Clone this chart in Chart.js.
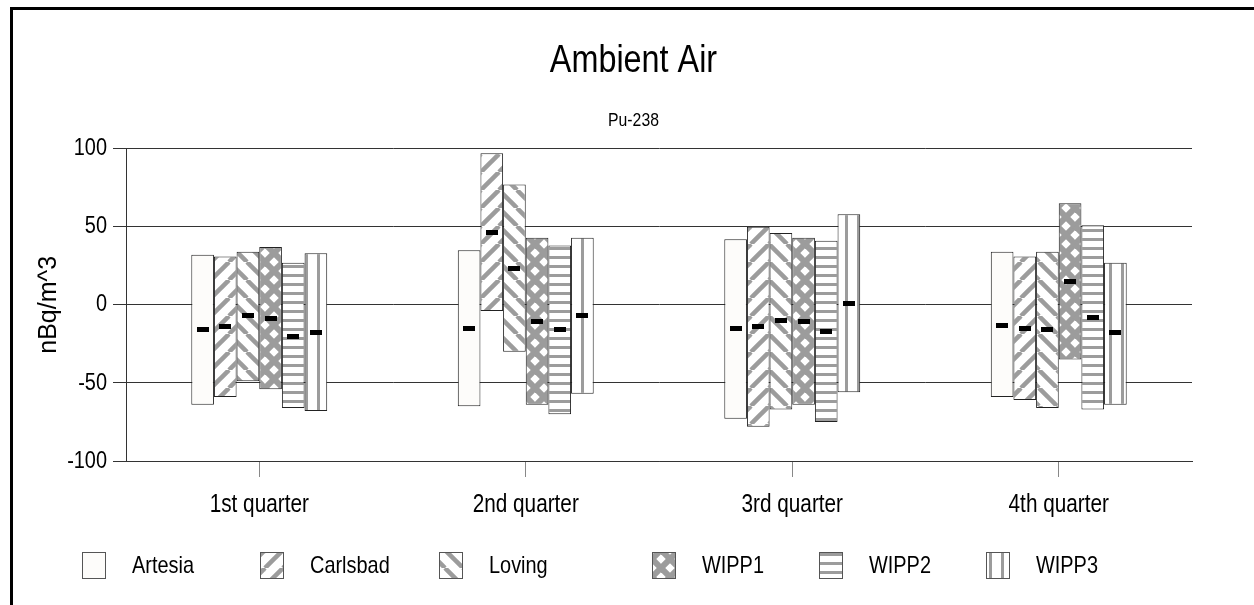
<!DOCTYPE html>
<html>
<head>
<meta charset="utf-8">
<title>Ambient Air</title>
<script src="https://cdn.jsdelivr.net/npm/chart.js@4.4.1/dist/chart.umd.min.js"></script>
<style>
html,body{margin:0;padding:0;background:#fff;overflow:hidden}
.frame{position:absolute;left:10px;top:7px;width:1400px;height:800px;border-left:3px solid #000;border-top:3px solid #000}
.box{position:absolute;left:13px;top:10px;width:1241px;height:595px}
</style>
</head>
<body>
<div class="frame"></div>
<div class="box"><canvas id="chart"></canvas></div>
<script>

const quarters=["1st quarter","2nd quarter","3rd quarter","4th quarter"]
const sites=["Artesia","Carlsbad","Loving","WIPP1","WIPP2","WIPP3"]
const yTicks=[-100,-50,0,50,100]

// [low, high] per quarter, plus the mean marker
const artesia=[[-64,32],[-65,35],[-73,42],[-59,34]]
const artesiaMean=[-16,-15,-15,-13]

const carlsbad=[[-59,31],[-4,97],[-78,50],[-61,31]]
const carlsbadMean=[-14,46,-14,-15]

const loving=[[-49,34],[-30,77],[-67,46],[-66,34]]
const lovingMean=[-7,23,-10,-16]

const wipp1=[[-54,37],[-64,43],[-64,43],[-35,65]]
const wipp1Mean=[-9,-11,-11,15]

const wipp2=[[-66,27],[-70,38],[-75,41],[-67,51]]
const wipp2Mean=[-20,-16,-17,-8]

const wipp3=[[-68,33],[-57,43],[-56,58],[-64,27]]
const wipp3Mean=[-18,-7,1,-18]

const FONT="'Liberation Sans',Arial,sans-serif"
const SQUEEZE=0.83

Chart.defaults.color="#000"
Chart.defaults.font.family=FONT

const canvas=document.getElementById("chart")
const mainCtx=canvas.getContext("2d")

// no narrow font installed: squeeze horizontal text like Arial Narrow
const rawFillText=mainCtx.fillText
mainCtx.fillText=function(text,x,y,maxWidth){
if(this.getTransform().b!==0) return rawFillText.call(this,text,x,y,maxWidth)
const w=this.measureText(text).width*SQUEEZE
return rawFillText.call(this,text,x,y,maxWidth===undefined?w:Math.min(w,maxWidth))
}

function tile(w,h,draw){
const c=document.createElement("canvas")
c.width=w
c.height=h
const g=c.getContext("2d")
g.fillStyle="#fff"
g.fillRect(0,0,w,h)
g.strokeStyle="#9c9c9c"
g.fillStyle="#9c9c9c"
draw(g)
return mainCtx.createPattern(c,"repeat")
}

function diag(g,s,dir,lw){
g.lineWidth=lw
for(let k=-s;k<=s;k+=s){
g.beginPath()
if(dir>0){g.moveTo(k,s);g.lineTo(k+s,0)}
else{g.moveTo(k,0);g.lineTo(k+s,s)}
g.stroke()
}
}

const fills=[
"#fdfcfa",
tile(18,18,g=>diag(g,18,1,4.5)),
tile(18,18,g=>diag(g,18,-1,4.5)),
tile(18,18,g=>{diag(g,18,1,6);diag(g,18,-1,6)}),
tile(9,9,g=>g.fillRect(0,3,9,3)),
tile(12,12,g=>g.fillRect(4,0,3,12))
]

const ranges=[artesia,carlsbad,loving,wipp1,wipp2,wipp3]
const means=[artesiaMean,carlsbadMean,lovingMean,wipp1Mean,wipp2Mean,wipp3Mean]

const datasets=sites.map((s,i)=>({
label:s,
data:ranges[i],
means:means[i],
backgroundColor:fills[i],
borderColor:"#222",
borderWidth:1,
borderSkipped:false,
categoryPercentage:0.51,
barPercentage:1
}))

const meanMarks={
id:"meanMarks",
afterDatasetsDraw(chart){
const {ctx,scales:{y}}=chart
ctx.save()
ctx.fillStyle="#000"
chart.data.datasets.forEach((ds,i)=>{
chart.getDatasetMeta(i).data.forEach((bar,j)=>{
const py=y.getPixelForValue(ds.means[j])
ctx.fillRect(Math.round(bar.x-6),Math.round(py-2.5),12,5)
})
})
ctx.restore()
}
}

// legend columns (canvas x of each swatch)
const legendCols=[69,247,426,639,806,973]

const sideLegend={
id:"sideLegend",
afterDraw(chart){
const {ctx}=chart
ctx.save()
chart.data.datasets.forEach((ds,i)=>{
const x=legendCols[i]
ctx.fillStyle=ds.backgroundColor
ctx.fillRect(x,542,24,27)
ctx.strokeStyle="#555"
ctx.lineWidth=1
ctx.strokeRect(x+0.5,542.5,23,26)
ctx.fillStyle="#000"
ctx.font="24px "+FONT
ctx.textBaseline="middle"
ctx.fillText(ds.label,x+50,556)
})
ctx.restore()
}
}

new Chart(canvas,{
type:"bar",
data:{labels:quarters,datasets},
options:{
responsive:true,
maintainAspectRatio:false,
animation:false,
layout:{padding:{left:0,right:0,top:0,bottom:84}},
plugins:{
legend:{display:false},
tooltip:{enabled:false},
title:{
display:true,
text:"Ambient Air",
color:"#000",
font:{size:39,weight:"normal"},
padding:{top:28,bottom:10}
},
subtitle:{
display:true,
text:"Pu-238",
color:"#000",
font:{size:19},
padding:{top:15,bottom:16}
}
},
scales:{
x:{
grid:{drawOnChartArea:false,offset:false,tickLength:16,color:"#888"},
border:{color:"#333"},
ticks:{font:{size:25},padding:13},
afterFit(s){s.height=60}
},
y:{
min:yTicks[0],
max:yTicks[yTicks.length-1],
afterBuildTicks(s){s.ticks=yTicks.map(v=>({value:v}))},
grid:{color:"#333",tickLength:13},
border:{color:"#333"},
ticks:{font:{size:24},padding:6},
title:{display:true,text:"nBq/m^3",font:{size:25},padding:{top:21}},
afterFit(s){s.width=113}
},
// empty right-hand margin
spare:{
position:"right",
grid:{display:false},
border:{display:false},
ticks:{display:false},
afterFit(s){s.width=62}
}
}
},
plugins:[meanMarks,sideLegend]
})

</script>
</body>
</html>
